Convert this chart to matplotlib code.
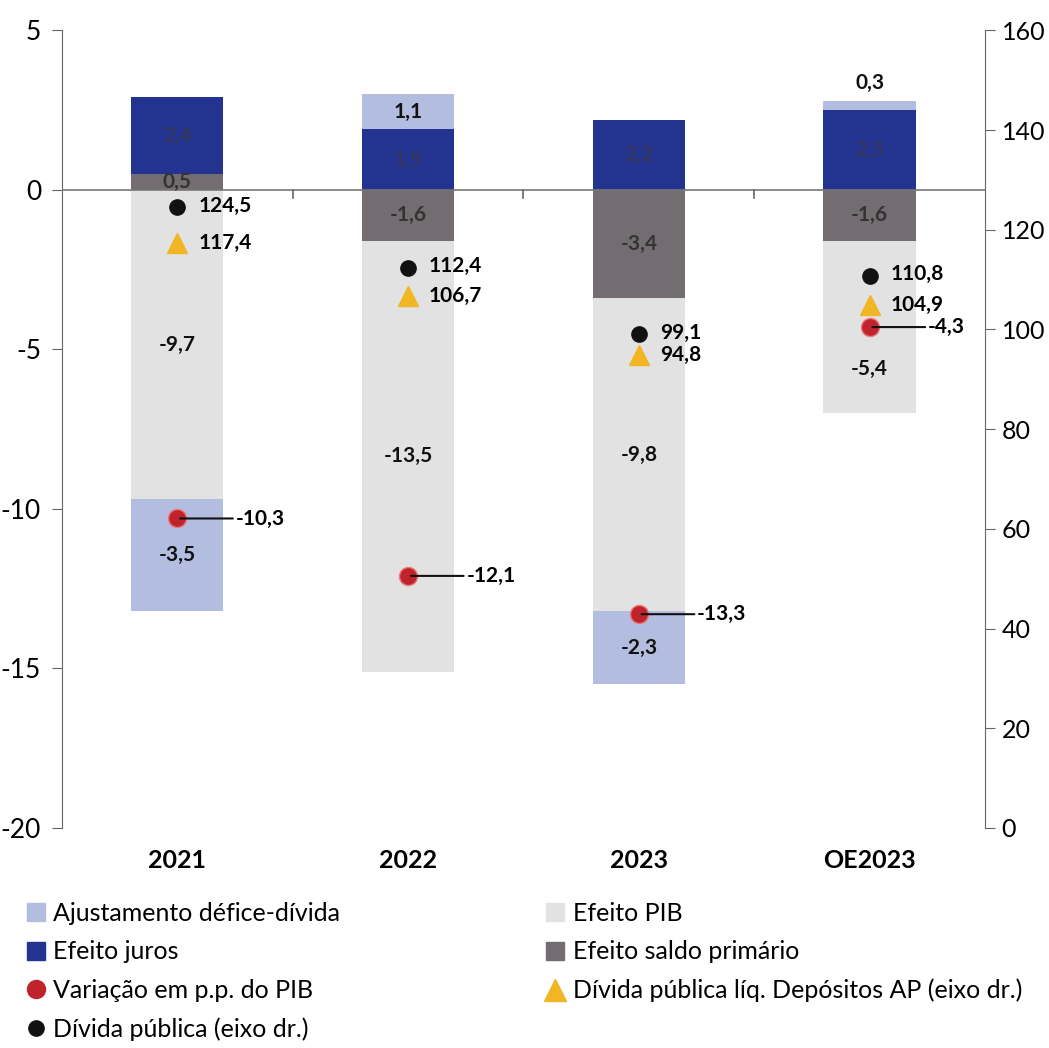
import matplotlib
matplotlib.use("Agg")
import matplotlib.pyplot as plt
import numpy as np
from matplotlib.lines import Line2D

plt.rcParams['font.family'] = ['Lato', 'DejaVu Sans']

categories = ['2021', '2022', '2023', 'OE2023']
saldo_primario = [0.5, -1.6, -3.4, -1.6]
juros = [2.4, 1.9, 2.2, 2.5]
efeito_pib = [-9.7, -13.5, -9.8, -5.4]
ajustamento = [-3.5, 1.1, -2.3, 0.3]
variacao_pib = [-10.3, -12.1, -13.3, -4.3]
divida = [124.5, 112.4, 99.1, 110.8]
divida_liq = [117.4, 106.7, 94.8, 104.9]

c_ajust = '#b3bde0'
c_pib = '#e2e2e2'
c_juros = '#22348f'
c_saldo = '#736c70'
c_var = '#c1232d'
c_liq = '#f2b524'
c_div = '#111111'


def fmt(v):
    return f"{v:.1f}".replace('.', ',')


fig = plt.figure(figsize=(10.49, 10.48), dpi=100)
ax = fig.add_axes([0.059, 0.21, 0.88, 0.761])
ax2 = ax.twinx()

x = np.arange(len(categories))
width = 0.4
pos_base = np.zeros(len(x))
neg_base = np.zeros(len(x))

series = [(saldo_primario, c_saldo, '#333333'),
          (juros, c_juros, '#33365e'),
          (efeito_pib, c_pib, '#111111'),
          (ajustamento, c_ajust, '#111111')]
segments = []
for vals, col, tcol in series:
    vals = np.array(vals)
    bottom = np.where(vals >= 0, pos_base, neg_base)
    ax.bar(x, vals, width, bottom=bottom, color=col, zorder=2)
    for i, v in enumerate(vals):
        segments.append((i, bottom[i], v, tcol))
    pos_base = np.where(vals >= 0, pos_base + vals, pos_base)
    neg_base = np.where(vals < 0, neg_base + vals, neg_base)

for i, b, v, tcol in segments:
    yc = b + v / 2
    if abs(v) < 0.5:
        # small segment: label above the bar
        ax.text(i, b + v + 0.25, fmt(v), ha='center', va='bottom',
                fontsize=15, fontweight='bold', color='#111111', zorder=5)
        continue
    if categories[i] == 'OE2023' and v < -5:
        yc = b + v + 1.4
    ax.text(i, yc, fmt(v), ha='center', va='center', fontsize=15,
            fontweight='bold', color=tcol, zorder=5)

# zero line
ax.axhline(0, color='#777777', lw=1.2, zorder=3)

ax.set_xlim(-0.5, len(x) - 0.5)
ax.set_ylim(-20, 5)
ax.set_yticks([-20, -15, -10, -5, 0, 5])
ax.set_yticklabels(['-20', '-15', '-10', '-5', '0', '5'])
ax.set_xticks([])
ax.tick_params(axis='y', labelsize=19, length=7, color='#666666', pad=8)

for s in ['top', 'right', 'bottom']:
    ax.spines[s].set_visible(False)
ax.spines['left'].set_color('#666666')

# category separators on the zero line
for sx in [0.5, 1.5, 2.5]:
    ax.plot([sx, sx], [0, -0.25], color='#666666', lw=1.2, zorder=3)

for i, c in enumerate(categories):
    ax.annotate(c, xy=(i, -20), xytext=(0, -15), textcoords='offset points',
                ha='center', va='top', fontsize=18, fontweight='bold')

# variation markers with leader line labels
ax.plot(x, variacao_pib, 'o', ms=13, color=c_var, mec='#e87a7a', mew=1, zorder=6,
        linestyle='none')
for i, v in enumerate(variacao_pib):
    ax.annotate(fmt(v), xy=(i, v), xytext=(42, 0), textcoords='offset points',
                ha='left', va='center', fontsize=15, fontweight='bold', zorder=6,
                arrowprops=dict(arrowstyle='-', color='#111111', lw=1.5,
                                shrinkA=0, shrinkB=2))

ax2.set_ylim(0, 160)
ax2.set_yticks(np.arange(0, 161, 20))
ax2.tick_params(axis='y', labelsize=18, length=7, color='#666666', pad=5)
for s in ['top', 'left', 'bottom']:
    ax2.spines[s].set_visible(False)
ax2.spines['right'].set_color('#666666')

ax2.plot(x, divida, 'o', ms=11, color=c_div, zorder=6, linestyle='none')
ax2.plot(x, divida_liq, '^', ms=15, color=c_liq, zorder=6, linestyle='none')
for i in range(len(x)):
    ax2.annotate(fmt(divida[i]), xy=(i, divida[i]), xytext=(15, 1),
                 textcoords='offset points', ha='left', va='center',
                 fontsize=15, fontweight='bold')
    ax2.annotate(fmt(divida_liq[i]), xy=(i, divida_liq[i]), xytext=(15, 0),
                 textcoords='offset points', ha='left', va='center',
                 fontsize=15, fontweight='bold')

# legend
h = [
    Line2D([], [], marker='s', ls='none', ms=13, color=c_ajust, label='Ajustamento défice-dívida'),
    Line2D([], [], marker='s', ls='none', ms=13, color=c_juros, label='Efeito juros'),
    Line2D([], [], marker='o', ls='none', ms=13, color=c_var, label='Variação em p.p. do PIB'),
    Line2D([], [], marker='o', ls='none', ms=11, color=c_div, label='Dívida pública (eixo dr.)'),
    Line2D([], [], marker='s', ls='none', ms=13, color=c_pib, label='Efeito PIB'),
    Line2D([], [], marker='s', ls='none', ms=13, color=c_saldo, label='Efeito saldo primário'),
    Line2D([], [], marker='^', ls='none', ms=16, color=c_liq, label='Dívida pública líq. Depósitos AP (eixo dr.)'),
]
fig.legend(handles=h, loc='upper left', bbox_to_anchor=(0.015, 0.149), ncol=2,
           frameon=False, fontsize=18, handlelength=0.8, handletextpad=0.3,
           columnspacing=8.2, labelspacing=0.62, borderaxespad=0)

fig.savefig('out.png', dpi=100)
